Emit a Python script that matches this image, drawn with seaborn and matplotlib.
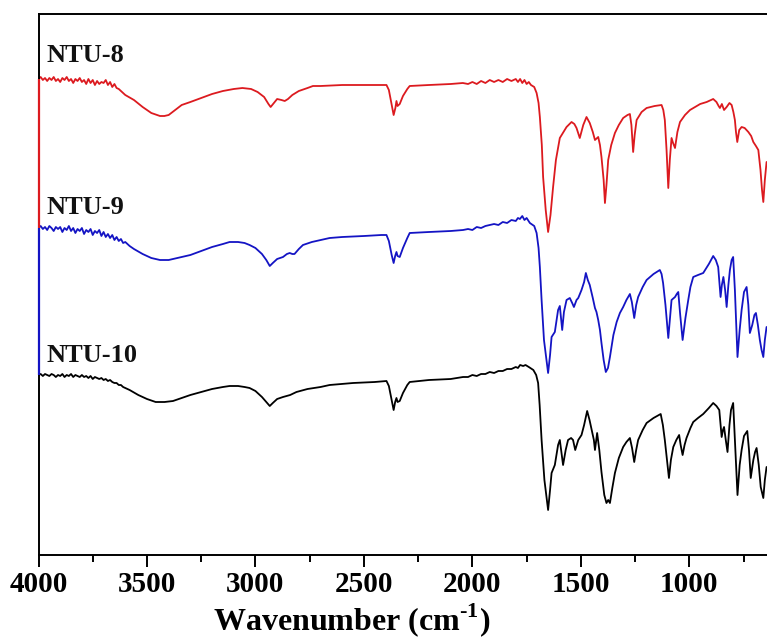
import matplotlib
matplotlib.use("Agg")
import matplotlib.pyplot as plt
import seaborn as sns
import pandas as pd

# FTIR spectra, transmittance in arbitrary units (traces already stacked)
# 4000-3600 cm-1 is recorded on a 10 cm-1 grid
wn_hi = list(range(4000, 3590, -10))
t_ntu8_hi = [476, 478, 475, 477, 474, 477, 475, 478, 474, 476, 473, 477, 475, 478, 474, 476, 472, 476, 474, 477,
             473, 475, 471, 476, 472, 475, 470, 474, 471, 473, 472, 475, 470, 473, 468, 471, 467, 466, 464, 462,
             460]
t_ntu9_hi = [327, 329, 326, 328, 325, 329, 327, 324, 328, 326, 328, 323, 327, 325, 329, 324, 327, 322, 326, 324,
             327, 321, 325, 323, 326, 320, 324, 322, 325, 319, 323, 318, 321, 317, 320, 315, 318, 314, 316, 312,
             313]
t_ntu10_hi = [180, 181, 179, 181, 180, 179, 181, 180, 178, 180, 179, 181, 178, 180, 179, 181, 178, 180, 179, 178,
              180, 178, 179, 177, 179, 176, 178, 177, 176, 177, 175, 176, 174, 175, 173, 172, 172, 170, 170, 168,
              167]

# NTU-8 below 3600 cm-1
wn_ntu8 = [3560, 3520, 3480, 3440, 3420, 3400, 3370, 3340, 3300, 3250, 3200, 3150, 3100, 3060, 3020, 2990,
           2960, 2940, 2930, 2915, 2900, 2880, 2865, 2850, 2830, 2800, 2760, 2735, 2700, 2600, 2500, 2420,
           2396, 2385, 2372, 2363, 2355, 2350, 2345, 2335, 2320, 2300, 2289, 2200, 2100, 2044, 2020, 2000,
           1980, 1960, 1940, 1920, 1900, 1880, 1860, 1840, 1820, 1800, 1790, 1780, 1770, 1760, 1750, 1740,
           1730, 1715, 1704,
           1695, 1689, 1680, 1674, 1662, 1651, 1640, 1628, 1615, 1597, 1580, 1566, 1543, 1530, 1520, 1505,
           1495, 1489, 1474, 1459, 1445, 1435, 1420, 1412, 1405, 1395, 1389, 1382, 1374, 1360, 1343, 1325,
           1305, 1285, 1274, 1267, 1259, 1252, 1243, 1220, 1197, 1160, 1128, 1120, 1113, 1105, 1097, 1090,
           1082, 1075, 1066, 1055, 1043, 1020, 997, 950, 920, 890, 875, 865, 859, 850, 840, 828,
           815, 805, 797, 790, 785, 779, 770, 759, 745, 728, 715, 705, 693, 682, 672, 665,
           659, 652, 644]
t_ntu8 = [455, 448, 442, 439, 439, 440, 445, 450, 453, 457, 461, 464, 466, 467, 466, 463,
          458, 451, 448, 452, 456, 455, 454, 456, 460, 464, 467, 469, 469, 470, 470, 470,
          470, 465, 450, 440, 447, 454, 449, 451, 459, 466, 469, 470, 471, 472, 471, 473,
          471, 474, 472, 475, 473, 475, 473, 476, 474, 476, 473, 476, 472, 475, 471, 473,
          470, 468, 462,
          452, 438, 410, 378, 345, 323, 340, 368, 395, 417, 423, 428, 433, 431, 427, 417,
          425, 430, 438, 432, 423, 415, 418, 410, 398, 375, 352, 370, 395, 410, 422, 430,
          437, 440, 441, 430, 403, 420, 435, 443, 447, 449, 450, 445, 435, 405, 367, 395,
          417, 412, 407, 423, 433, 440, 445, 451, 453, 456, 453, 449, 447, 451, 445, 448,
          452, 450, 443, 435, 423, 413, 425, 428, 427, 423, 419, 413, 409, 405, 385, 365,
          353, 375, 393]

# NTU-9 below 3600 cm-1
wn_ntu9 = [3580, 3560, 3520, 3480, 3440, 3400, 3360, 3300, 3250, 3200, 3150, 3119, 3080, 3050, 3027, 3000,
           2970, 2950, 2934, 2920, 2900, 2873, 2855, 2842, 2830, 2820, 2800, 2781, 2740, 2700, 2658, 2600,
           2500, 2420, 2396, 2385, 2372, 2363, 2356, 2350, 2345, 2335, 2320, 2300, 2289, 2200, 2100, 2043,
           2020, 2000, 1980, 1960, 1940, 1920, 1900, 1880, 1860, 1840, 1820, 1800, 1790, 1781, 1770, 1760,
           1750, 1735, 1715, 1704,
           1695, 1689, 1681, 1670, 1651, 1642, 1635, 1620, 1605, 1597, 1586, 1578, 1566, 1551, 1540, 1532,
           1520, 1512, 1497, 1485, 1477, 1468, 1459, 1445, 1435, 1428, 1420, 1412, 1405, 1395, 1385, 1375,
           1366, 1350, 1335, 1320, 1305, 1290, 1274, 1265, 1254, 1245, 1236, 1215, 1197, 1165, 1136, 1128,
           1121, 1110, 1097, 1088, 1082, 1066, 1058, 1051, 1042, 1031, 1018, 1005, 995, 982, 960, 936,
           910, 890, 878, 867, 856, 850, 843, 835, 828, 820, 813, 805, 798, 790, 778, 768,
           759, 748, 736, 728, 721, 710, 700, 693, 684, 675, 667, 659, 652, 644]
t_ntu9 = [309, 306, 301, 297, 295, 295, 297, 300, 304, 308, 311, 313, 313, 312, 310, 307,
          301, 295, 289, 292, 296, 298, 301, 302, 301, 301, 306, 310, 313, 315, 317, 318,
          319, 320, 320, 314, 300, 292, 299, 303, 299, 298, 307, 317, 322, 323, 324, 325,
          326, 325, 328, 327, 329, 330, 331, 330, 333, 332, 335, 334, 337, 336, 339, 335,
          337, 332, 329, 322,
          307, 288, 255, 215, 182, 200, 218, 223, 245, 249, 225, 243, 255, 257, 252, 248,
          255, 257, 265, 273, 282, 275, 270, 257, 247, 243, 235, 225, 212, 195, 183, 187,
          198, 220, 233, 242, 248, 255, 261, 253, 237, 250, 258, 268, 275, 281, 285, 281,
          272, 250, 217, 240, 255, 258, 261, 263, 240, 215, 237, 255, 268, 278, 280, 282,
          291, 299, 295, 288, 258, 270, 278, 265, 248, 270, 285, 295, 298, 265, 198, 225,
          245, 263, 268, 250, 222, 230, 240, 242, 230, 215, 205, 198, 215, 228]

# NTU-10 below 3600 cm-1
wn_ntu10 = [3580, 3540, 3500, 3460, 3419, 3380, 3340, 3300, 3250, 3200, 3150, 3119, 3080, 3050, 3027, 3000,
            2970, 2950, 2934, 2920, 2900, 2873, 2840, 2811, 2760, 2700, 2658, 2550, 2450, 2396, 2385, 2372,
            2363, 2356, 2350, 2345, 2335, 2320, 2300, 2289, 2200, 2100, 2043, 2020, 2000, 1980, 1960, 1940,
            1920, 1900, 1880, 1860, 1840, 1820, 1800, 1790, 1780, 1766, 1755, 1740, 1719, 1706,
            1697, 1690, 1681, 1668, 1651, 1642, 1635, 1620, 1605, 1597, 1582, 1570, 1559, 1545, 1536, 1526,
            1512, 1497, 1485, 1471, 1460, 1452, 1440, 1435, 1425, 1415, 1405, 1392, 1382, 1374, 1366, 1355,
            1343, 1325, 1305, 1290, 1274, 1264, 1254, 1245, 1236, 1215, 1197, 1165, 1132, 1122, 1113, 1103,
            1094, 1085, 1074, 1060, 1047, 1040, 1031, 1022, 1013, 995, 982, 960, 936, 910, 890, 875,
            862, 851, 845, 840, 832, 824, 815, 808, 798, 790, 778, 768, 759, 748, 733, 725,
            717, 705, 697, 690, 680, 671, 659, 652, 644]
t_ntu10 = [165, 160, 156, 153, 153, 154, 157, 160, 163, 166, 168, 169, 169, 168, 167, 164,
           158, 153, 149, 152, 156, 158, 160, 163, 166, 168, 170, 172, 173, 174, 169, 155,
           145, 153, 157, 153, 154, 162, 170, 173, 175, 176, 178, 178, 180, 179, 181, 181,
           183, 182, 184, 184, 186, 186, 188, 187, 190, 189, 190, 188, 185, 180,
           172, 150, 115, 75, 45, 65, 82, 90, 110, 115, 90, 105, 115, 117, 115, 105,
           115, 120, 130, 144, 135, 127, 115, 105, 122, 105, 83, 60, 52, 55, 52, 67,
           82, 97, 108, 113, 117, 107, 93, 105, 115, 125, 132, 137, 141, 130, 115, 95,
           77, 95, 108, 115, 120, 110, 100, 110, 117, 127, 133, 137, 141, 147, 152, 149,
           145, 118, 125, 128, 115, 103, 130, 145, 152, 115, 60, 90, 105, 119, 124, 105,
           77, 95, 103, 107, 90, 68, 57, 75, 88]

samples = ["NTU-8", "NTU-9", "NTU-10"]
colors = ["#dc1a1f", "#1414c4", "#000000"]
label_levels = [493, 341, 193]

spectra = {
    "NTU-8": (wn_hi + wn_ntu8, t_ntu8_hi + t_ntu8),
    "NTU-9": (wn_hi + wn_ntu9, t_ntu9_hi + t_ntu9),
    "NTU-10": (wn_hi + wn_ntu10, t_ntu10_hi + t_ntu10),
}
df = pd.concat(
    [pd.DataFrame({"wavenumber": w, "T": t, "sample": s}) for s, (w, t) in spectra.items()],
    ignore_index=True,
)

sns.set_theme(style="ticks")
plt.rcParams["font.family"] = ["Liberation Serif", "DejaVu Serif"]
plt.rcParams["font.weight"] = "bold"
plt.rcParams["mathtext.fontset"] = "custom"
plt.rcParams["mathtext.rm"] = "Liberation Serif:bold"
plt.rcParams["mathtext.bf"] = "Liberation Serif:bold"

W, H = 767, 641
fig = plt.figure(figsize=(W / 100, H / 100), dpi=100)
ax = fig.add_axes([38.5 / W, (H - 555) / H, (W - 38.5) / W, (555 - 14) / H])

sns.lineplot(data=df, x="wavenumber", y="T", hue="sample", hue_order=samples,
             palette=colors, estimator=None, sort=False, linewidth=1.3,
             legend=False, ax=ax)

# vertical joins along the left edge where each trace starts
starts = [spectra[s][1][0] for s in samples]
for i in range(2):
    ax.vlines(wn_hi[0], starts[i + 1], starts[i], color=colors[i],
              linewidth=1.6, zorder=4, clip_on=False)

for name, lv in zip(samples, label_levels):
    ax.text(3965, lv, name, fontsize=19, fontweight="bold", color="#111111",
            ha="left", va="baseline")

ax.set_xlim(4000, 642)
ax.set_ylim(0, 541)
ax.set_xticks([4000, 3500, 3000, 2500, 2000, 1500, 1000])
ax.set_xticks([3750, 3250, 2750, 2250, 1750, 1250, 750], minor=True)
ax.set_yticks([])
ax.set_ylabel("")
ax.tick_params(axis="x", which="major", direction="out", length=8.5, width=1.4,
               labelsize=21, pad=3, color="black", labelcolor="black")
ax.tick_params(axis="x", which="minor", direction="out", length=5, width=1.4, color="black")
for lab in ax.get_xticklabels():
    lab.set_fontweight("bold")

for side in ["left", "top", "bottom"]:
    ax.spines[side].set_linewidth(1.4)
    ax.spines[side].set_color("black")
ax.spines["right"].set_visible(False)

ax.set_xlabel(r"Wavenumber (cm$^{\text{-1}}$)", fontsize=23, fontweight="bold",
              color="black", labelpad=2)
ax.xaxis.set_label_coords((352 - 38.5) / (W - 38.5), -0.085)

fig.savefig("out.png", dpi=100)
